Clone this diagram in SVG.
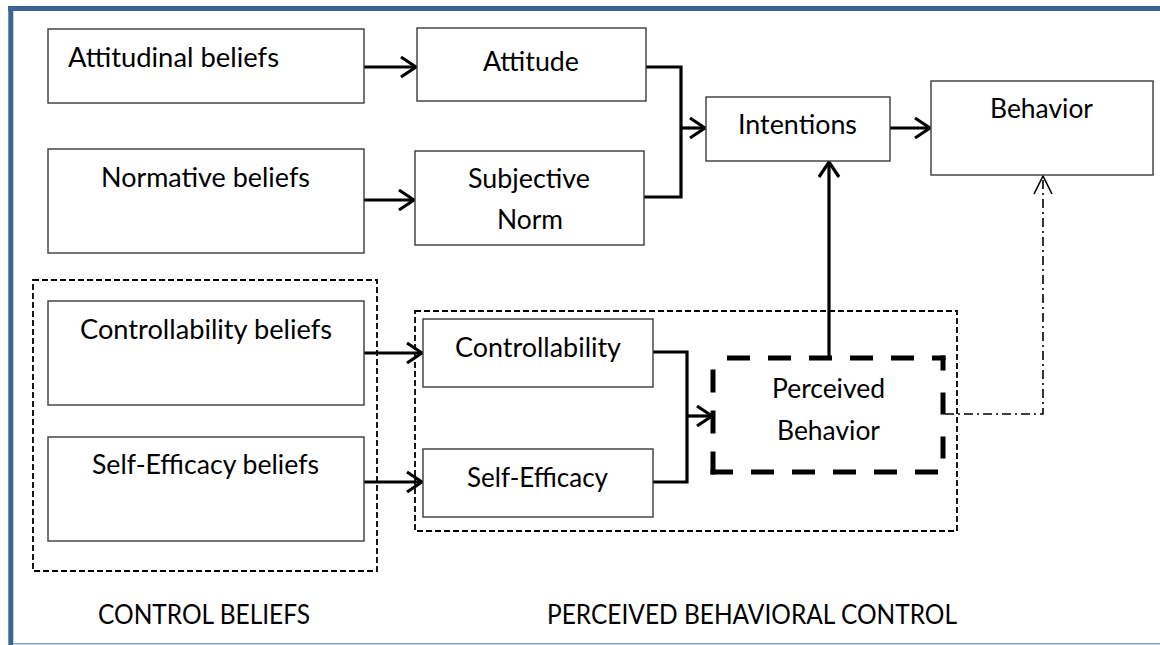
<svg xmlns="http://www.w3.org/2000/svg" width="1160" height="645" viewBox="0 0 1160 645">
  <defs>
    <style>
      .box { fill: #ffffff; stroke: #3a3a3a; stroke-width: 1.4; }
      .lbl { font-family: Lato, "Liberation Sans", sans-serif; font-size: 26px; fill: #000000; }
      .conn { fill: none; stroke: #000000; stroke-width: 3.2; }
      .group { fill: none; stroke: #000000; stroke-width: 1.8; stroke-dasharray: 6 3; }
      .dashdot { fill: none; stroke: #000000; stroke-width: 1.6; stroke-dasharray: 9 4 2 4; }
      .heavy { fill: none; stroke: #000000; stroke-width: 5; }
    </style>
    <marker id="arrow" markerUnits="userSpaceOnUse" viewBox="-18 -12 20 24" refX="0" refY="0" markerWidth="20" markerHeight="24" orient="auto">
      <path d="M-15,-10 L0,0 L-15,10" fill="none" stroke="#000000" stroke-width="3.2" stroke-linejoin="miter"/>
    </marker>
    <marker id="arrowThin" markerUnits="userSpaceOnUse" viewBox="-20 -11 22 22" refX="0" refY="0" markerWidth="22" markerHeight="22" orient="auto">
      <path d="M-18,-9 L0,0 L-18,9" fill="none" stroke="#000000" stroke-width="1.6"/>
    </marker>
  </defs>

  <rect x="0" y="0" width="1160" height="645" fill="#ffffff"/>

  <!-- page frame -->
  <g id="frame">
    <line x1="8" y1="8.5" x2="1160" y2="8.5" stroke="#3C6391" stroke-width="5"/>
    <line x1="10.8" y1="6" x2="10.8" y2="645" stroke="#3C6391" stroke-width="5"/>
    <line x1="13" y1="643.8" x2="1160" y2="643.8" stroke="#86A2C8" stroke-width="1.6"/>
  </g>

  <!-- grouping outlines -->
  <g id="control-beliefs-group">
    <rect class="group" x="33" y="280" width="344" height="291"/>
    <text class="lbl" x="98" y="624" textLength="212" lengthAdjust="spacingAndGlyphs">CONTROL BELIEFS</text>
  </g>
  <g id="pbc-group">
    <rect class="group" x="415" y="311" width="542" height="220"/>
    <text class="lbl" x="547" y="624" textLength="410" lengthAdjust="spacingAndGlyphs">PERCEIVED BEHAVIORAL CONTROL</text>
  </g>

  <!-- connectors -->
  <g id="connectors">
    <line class="conn" x1="364" y1="67" x2="416" y2="67" marker-end="url(#arrow)"/>
    <line class="conn" x1="364" y1="200" x2="414" y2="200" marker-end="url(#arrow)"/>
    <polyline class="conn" points="646,67 681,67 681,197 644,197"/>
    <line class="conn" x1="681" y1="128" x2="705" y2="128" marker-end="url(#arrow)"/>
    <line class="conn" x1="890" y1="128" x2="930" y2="128" marker-end="url(#arrow)"/>
    <line class="conn" x1="364" y1="353" x2="422" y2="353" marker-end="url(#arrow)"/>
    <line class="conn" x1="364" y1="482" x2="422" y2="482" marker-end="url(#arrow)"/>
    <polyline class="conn" points="653,352 687,352 687,482 653,482"/>
    <line class="conn" x1="687" y1="416" x2="712" y2="416" marker-end="url(#arrow)"/>
    <line class="conn" x1="829" y1="358" x2="829" y2="162" marker-end="url(#arrow)"/>
    <polyline class="dashdot" points="945,414 1043,414 1043,176" marker-end="url(#arrowThin)"/>
  </g>

  <!-- nodes -->
  <g id="attitudinal-beliefs">
    <rect class="box" x="48" y="29" width="316" height="74"/>
    <text class="lbl" x="68" y="67" textLength="211" lengthAdjust="spacingAndGlyphs">Attitudinal beliefs</text>
  </g>
  <g id="normative-beliefs">
    <rect class="box" x="48" y="149" width="316" height="104"/>
    <text class="lbl" x="101" y="187" textLength="209" lengthAdjust="spacingAndGlyphs">Normative beliefs</text>
  </g>
  <g id="attitude">
    <rect class="box" x="417" y="28" width="229" height="73"/>
    <text class="lbl" x="483" y="71" textLength="96" lengthAdjust="spacingAndGlyphs">Attitude</text>
  </g>
  <g id="subjective-norm">
    <rect class="box" x="415" y="151" width="229" height="94"/>
    <text class="lbl" x="468" y="188" textLength="122" lengthAdjust="spacingAndGlyphs">Subjective</text>
    <text class="lbl" x="497" y="229" textLength="66" lengthAdjust="spacingAndGlyphs">Norm</text>
  </g>
  <g id="intentions">
    <rect class="box" x="706" y="97" width="184" height="64"/>
    <text class="lbl" x="738" y="134" textLength="119" lengthAdjust="spacingAndGlyphs">Intentions</text>
  </g>
  <g id="behavior">
    <rect class="box" x="931" y="81" width="222" height="94"/>
    <text class="lbl" x="990" y="118" textLength="103" lengthAdjust="spacingAndGlyphs">Behavior</text>
  </g>
  <g id="controllability-beliefs">
    <rect class="box" x="48" y="301" width="316" height="104"/>
    <text class="lbl" x="80" y="339" textLength="252" lengthAdjust="spacingAndGlyphs">Controllability beliefs</text>
  </g>
  <g id="self-efficacy-beliefs">
    <rect class="box" x="48" y="437" width="316" height="104"/>
    <text class="lbl" x="92" y="474" textLength="227" lengthAdjust="spacingAndGlyphs">Self-Efficacy beliefs</text>
  </g>
  <g id="controllability">
    <rect class="box" x="423" y="319" width="230" height="68"/>
    <text class="lbl" x="455" y="357" textLength="166" lengthAdjust="spacingAndGlyphs">Controllability</text>
  </g>
  <g id="self-efficacy">
    <rect class="box" x="423" y="449" width="230" height="68"/>
    <text class="lbl" x="467" y="487" textLength="141" lengthAdjust="spacingAndGlyphs">Self-Efficacy</text>
  </g>
  <g id="perceived-behavior">
    <!-- heavy dashed outline, one stroke per side so each side keeps its own dash phase -->
    <line class="heavy" x1="713" y1="358" x2="945.5" y2="358" stroke-dasharray="23 18" stroke-dashoffset="27"/>
    <line class="heavy" x1="943" y1="355.5" x2="943" y2="472" stroke-dasharray="22 22" stroke-dashoffset="7"/>
    <line class="heavy" x1="943" y1="472" x2="710.5" y2="472" stroke-dasharray="23 18" stroke-dashoffset="36"/>
    <line class="heavy" x1="713" y1="474.5" x2="713" y2="358" stroke-dasharray="23 18" stroke-dashoffset="0"/>
    <text class="lbl" x="772" y="398" textLength="113" lengthAdjust="spacingAndGlyphs">Perceived</text>
    <text class="lbl" x="777" y="440" textLength="103" lengthAdjust="spacingAndGlyphs">Behavior</text>
  </g>
</svg>
